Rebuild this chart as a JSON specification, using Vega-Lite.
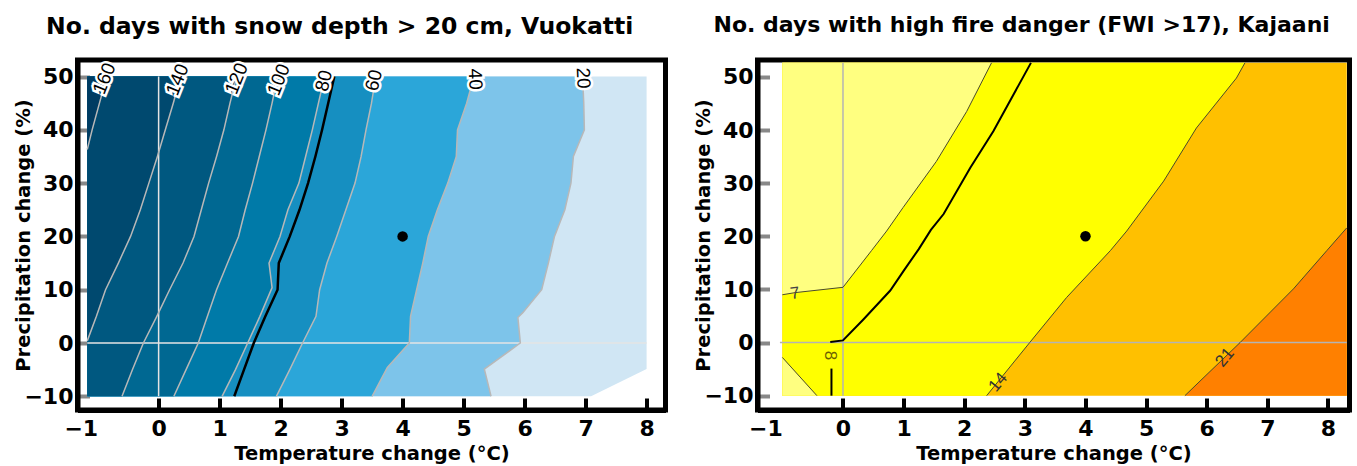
{
  "$schema": "https://vega.github.io/schema/vega-lite/v6.json",
  "padding": {"left": 10.5, "top": 11, "right": 0, "bottom": 0},
  "spacing": 22,
  "datasets": {
    "snow": [
      {"c": "bg", "y": 50, "x": 8.0}, {"c": "bg", "y": -4.9, "x": 8.0}, {"c": "bg", "y": -10, "x": 7.09},
      {"c": "20", "y": 50, "x": 6.95}, {"c": "20", "y": 45, "x": 6.97}, {"c": "20", "y": 40, "x": 6.98}, {"c": "20", "y": 35, "x": 6.8}, {"c": "20", "y": 30, "x": 6.76}, {"c": "20", "y": 25, "x": 6.66}, {"c": "20", "y": 20, "x": 6.49}, {"c": "20", "y": 15, "x": 6.39}, {"c": "20", "y": 10, "x": 6.28}, {"c": "20", "y": 5.7, "x": 5.97}, {"c": "20", "y": 4.8, "x": 5.89}, {"c": "20", "y": 0, "x": 5.93}, {"c": "20", "y": -4.9, "x": 5.34}, {"c": "20", "y": -10, "x": 5.45},
      {"c": "40", "y": 50, "x": 5.17}, {"c": "40", "y": 45, "x": 5.05}, {"c": "40", "y": 40, "x": 4.9}, {"c": "40", "y": 35, "x": 4.88}, {"c": "40", "y": 30, "x": 4.74}, {"c": "40", "y": 25, "x": 4.57}, {"c": "40", "y": 20, "x": 4.42}, {"c": "40", "y": 15, "x": 4.33}, {"c": "40", "y": 10, "x": 4.23}, {"c": "40", "y": 5, "x": 4.13}, {"c": "40", "y": 0, "x": 4.11}, {"c": "40", "y": -4.6, "x": 3.75}, {"c": "40", "y": -10, "x": 3.5},
      {"c": "60", "y": 50, "x": 3.56}, {"c": "60", "y": 45, "x": 3.49}, {"c": "60", "y": 40, "x": 3.4}, {"c": "60", "y": 35, "x": 3.32}, {"c": "60", "y": 30, "x": 3.22}, {"c": "60", "y": 25, "x": 3.07}, {"c": "60", "y": 20, "x": 2.92}, {"c": "60", "y": 15, "x": 2.76}, {"c": "60", "y": 10, "x": 2.64}, {"c": "60", "y": 5, "x": 2.58}, {"c": "60", "y": 0, "x": 2.36}, {"c": "60", "y": -5, "x": 2.15}, {"c": "60", "y": -10, "x": 1.93},
      {"c": "80", "y": 50, "x": 2.72}, {"c": "80", "y": 45, "x": 2.62}, {"c": "80", "y": 40, "x": 2.52}, {"c": "80", "y": 35, "x": 2.41}, {"c": "80", "y": 30, "x": 2.3}, {"c": "80", "y": 25, "x": 2.12}, {"c": "80", "y": 20, "x": 1.99}, {"c": "80", "y": 15, "x": 1.81}, {"c": "80", "y": 10.4, "x": 1.86}, {"c": "80", "y": 5, "x": 1.66}, {"c": "80", "y": 0, "x": 1.46}, {"c": "80", "y": -5, "x": 1.26}, {"c": "80", "y": -10, "x": 1.04},
      {"c": "100", "y": 50, "x": 1.95}, {"c": "100", "y": 45, "x": 1.86}, {"c": "100", "y": 40, "x": 1.76}, {"c": "100", "y": 35, "x": 1.65}, {"c": "100", "y": 30, "x": 1.54}, {"c": "100", "y": 25, "x": 1.42}, {"c": "100", "y": 20, "x": 1.31}, {"c": "100", "y": 15, "x": 1.13}, {"c": "100", "y": 10, "x": 0.95}, {"c": "100", "y": 5, "x": 0.8}, {"c": "100", "y": 0, "x": 0.65}, {"c": "100", "y": -5, "x": 0.45}, {"c": "100", "y": -10, "x": 0.25},
      {"c": "120", "y": 50, "x": 1.28}, {"c": "120", "y": 45, "x": 1.17}, {"c": "120", "y": 40, "x": 1.07}, {"c": "120", "y": 35, "x": 0.95}, {"c": "120", "y": 30, "x": 0.82}, {"c": "120", "y": 25, "x": 0.7}, {"c": "120", "y": 20, "x": 0.58}, {"c": "120", "y": 15, "x": 0.4}, {"c": "120", "y": 10, "x": 0.18}, {"c": "120", "y": 5, "x": -0.03}, {"c": "120", "y": 0, "x": -0.25}, {"c": "120", "y": -5, "x": -0.43}, {"c": "120", "y": -10, "x": -0.6},
      {"c": "140", "y": 50, "x": 0.36}, {"c": "140", "y": 45, "x": 0.24}, {"c": "140", "y": 40, "x": 0.11}, {"c": "140", "y": 35, "x": -0.02}, {"c": "140", "y": 30, "x": -0.16}, {"c": "140", "y": 25, "x": -0.3}, {"c": "140", "y": 20, "x": -0.46}, {"c": "140", "y": 15, "x": -0.66}, {"c": "140", "y": 10, "x": -0.87}, {"c": "140", "y": 5, "x": -1.02}, {"c": "140", "y": 0.4, "x": -1.17},
      {"c": "160", "y": 50, "x": -0.85}, {"c": "160", "y": 45, "x": -0.97}, {"c": "160", "y": 40, "x": -1.09}, {"c": "160", "y": 36.3, "x": -1.17},
      {"c": "k80", "y": 50, "x": 2.88}, {"c": "k80", "y": 45, "x": 2.78}, {"c": "k80", "y": 40, "x": 2.68}, {"c": "k80", "y": 35, "x": 2.57}, {"c": "k80", "y": 30, "x": 2.45}, {"c": "k80", "y": 25, "x": 2.31}, {"c": "k80", "y": 20, "x": 2.15}, {"c": "k80", "y": 15, "x": 1.97}, {"c": "k80", "y": 10, "x": 1.95}, {"c": "k80", "y": 5, "x": 1.75}, {"c": "k80", "y": 0, "x": 1.56}, {"c": "k80", "y": -5, "x": 1.4}, {"c": "k80", "y": -10, "x": 1.24}
    ],
    "snowRef": [
      {"x": 0, "x2": 0, "y": -10, "y2": 50},
      {"x": -1.17, "x2": 8, "y": 0, "y2": 0}
    ],
    "snowLab": [
      {"lab": "160", "x": -0.89, "y": 49.6},
      {"lab": "140", "x": 0.31, "y": 49.4},
      {"lab": "120", "x": 1.28, "y": 49.6},
      {"lab": "100", "x": 1.97, "y": 49.4},
      {"lab": "80", "x": 2.71, "y": 49.2},
      {"lab": "60", "x": 3.53, "y": 49.3},
      {"lab": "40", "x": 5.19, "y": 49.5},
      {"lab": "20", "x": 6.96, "y": 49.7}
    ],
    "fire": [
      {"c": "bg", "y": -10, "x": 8.31}, {"c": "bg", "y": 52.66, "x": 8.31},
      {"c": "21", "y": -10, "x": 5.64}, {"c": "21", "y": 0, "x": 6.55}, {"c": "21", "y": 10.1, "x": 7.43}, {"c": "21", "y": 17.3, "x": 7.98}, {"c": "21", "y": 21.6, "x": 8.31},
      {"c": "14", "y": -10, "x": 2.37}, {"c": "14", "y": 0, "x": 3.08}, {"c": "14", "y": 8.5, "x": 3.69}, {"c": "14", "y": 17.3, "x": 4.41}, {"c": "14", "y": 21, "x": 4.68}, {"c": "14", "y": 30.4, "x": 5.29}, {"c": "14", "y": 40.4, "x": 5.83}, {"c": "14", "y": 49.8, "x": 6.49}, {"c": "14", "y": 52.66, "x": 6.63},
      {"c": "7a", "y": 9.0, "x": -1.0}, {"c": "7a", "y": 9.4, "x": -0.79}, {"c": "7a", "y": 10.4, "x": 0.0}, {"c": "7a", "y": 17.3, "x": 0.47}, {"c": "7a", "y": 21, "x": 0.72}, {"c": "7a", "y": 25.4, "x": 0.99}, {"c": "7a", "y": 34.1, "x": 1.54}, {"c": "7a", "y": 43.5, "x": 2.04}, {"c": "7a", "y": 52.66, "x": 2.45},
      {"c": "7b", "y": -10, "x": -0.43}, {"c": "7b", "y": -2.8, "x": -1.0},
      {"c": "k8", "y": 0.1, "x": -0.21}, {"c": "k8", "y": 0.4, "x": 0.0}, {"c": "k8", "y": 4.4, "x": 0.34}, {"c": "k8", "y": 9.8, "x": 0.78}, {"c": "k8", "y": 13.5, "x": 1.0}, {"c": "k8", "y": 17.6, "x": 1.25}, {"c": "k8", "y": 21.2, "x": 1.45}, {"c": "k8", "y": 24.2, "x": 1.66}, {"c": "k8", "y": 32.9, "x": 2.1}, {"c": "k8", "y": 39.8, "x": 2.48}, {"c": "k8", "y": 52.66, "x": 3.1},
      {"c": "k8b", "y": -10, "x": -0.19}, {"c": "k8b", "y": -4.9, "x": -0.19}
    ],
    "fireRef": [
      {"x": 0, "x2": 0, "y": -10, "y2": 52.66},
      {"x": -1.04, "x2": 8.31, "y": 0, "y2": 0}
    ],
    "fireLab": [
      {"lab": "7", "x": -0.79, "y": 9.2},
      {"lab": "8", "x": -0.21, "y": -2.45},
      {"lab": "14", "x": 2.56, "y": -7.5},
      {"lab": "21", "x": 6.3, "y": -2.8}
    ],
    "dot": [{"x": 4, "y": 20}]
  },
  "hconcat": [
    {
      "width": 588,
      "height": 350,
      "title": {"text": "No. days with snow depth > 20 cm, Vuokatti", "fontSize": 23.5},
      "encoding": {
        "x": {"field": "x", "type": "quantitative", "stack": null, "scale": {"domain": [-1.33, 8.31], "nice": false, "zero": false}, "axis": {"values": [-1, 0, 1, 2, 3, 4, 5, 6, 7, 8], "title": "Temperature change (°C)", "labelPadding": 20, "titlePadding": 5, "labelFlush": false, "labelAlign": {"condition": {"test": "datum.value == -1", "value": "right"}, "value": "center"}, "tickColor": {"condition": {"test": "datum.value == -1", "value": "transparent"}, "value": "black"}}},
        "y": {"field": "y", "type": "quantitative", "scale": {"domain": [-12.57, 53.1], "nice": false, "zero": false}, "axis": {"values": [-10, 0, 10, 20, 30, 40, 50], "title": "Precipitation change (%)", "labelPadding": 16.5, "titlePadding": -10}}
      },
      "layer": [
        {"data": {"name": "snow"}, "transform": [{"filter": "datum.c == 'bg'"}], "mark": {"type": "area", "orient": "horizontal", "color": "#d0e6f4"}, "encoding": {"x2": {"datum": -1.17}}},
        {"data": {"name": "snow"}, "transform": [{"filter": "datum.c == '20'"}], "mark": {"type": "area", "orient": "horizontal", "color": "#7dc4ea"}, "encoding": {"x2": {"datum": -1.17}}},
        {"data": {"name": "snow"}, "transform": [{"filter": "datum.c == '40'"}], "mark": {"type": "area", "orient": "horizontal", "color": "#2ba6d9"}, "encoding": {"x2": {"datum": -1.17}}},
        {"data": {"name": "snow"}, "transform": [{"filter": "datum.c == '60'"}], "mark": {"type": "area", "orient": "horizontal", "color": "#168fc1"}, "encoding": {"x2": {"datum": -1.17}}},
        {"data": {"name": "snow"}, "transform": [{"filter": "datum.c == '80'"}], "mark": {"type": "area", "orient": "horizontal", "color": "#007aa8"}, "encoding": {"x2": {"datum": -1.17}}},
        {"data": {"name": "snow"}, "transform": [{"filter": "datum.c == '100'"}], "mark": {"type": "area", "orient": "horizontal", "color": "#006892"}, "encoding": {"x2": {"datum": -1.17}}},
        {"data": {"name": "snow"}, "transform": [{"filter": "datum.c == '120'"}], "mark": {"type": "area", "orient": "horizontal", "color": "#005880"}, "encoding": {"x2": {"datum": -1.17}}},
        {"data": {"name": "snow"}, "transform": [{"filter": "datum.c == '140'"}], "mark": {"type": "area", "orient": "horizontal", "color": "#00496f"}, "encoding": {"x2": {"datum": -1.17}}},
        {"data": {"name": "snow"}, "transform": [{"filter": "datum.c == '160'"}], "mark": {"type": "area", "orient": "horizontal", "color": "#003c62"}, "encoding": {"x2": {"datum": -1.17}}},
        {"data": {"name": "snowRef"}, "mark": {"type": "rule", "color": "#e4e4e4", "strokeWidth": 1.5}, "encoding": {"x2": {"field": "x2"}, "y2": {"field": "y2"}}},
        {"data": {"name": "snow"}, "transform": [{"filter": "datum.c != 'bg' && datum.c != 'k80'"}], "mark": {"type": "line", "color": "#b8b8b8", "strokeWidth": 1.5}, "encoding": {"detail": {"field": "c"}, "order": {"field": "y"}}},
        {"data": {"name": "snow"}, "transform": [{"filter": "datum.c == 'k80'"}], "mark": {"type": "line", "color": "black", "strokeWidth": 2.5}, "encoding": {"order": {"field": "y"}}},
        {"data": {"name": "snowLab"}, "transform": [{"filter": "datum.lab == '160' || datum.lab == '140' || datum.lab == '120' || datum.lab == '100'"}], "mark": {"type": "text", "angle": -68, "font": "Liberation Sans", "fontSize": 19, "stroke": "white", "strokeWidth": 5, "fill": "white"}, "encoding": {"text": {"field": "lab"}}},
        {"data": {"name": "snowLab"}, "transform": [{"filter": "datum.lab == '160' || datum.lab == '140' || datum.lab == '120' || datum.lab == '100'"}], "mark": {"type": "text", "angle": -68, "font": "Liberation Sans", "fontSize": 19, "fill": "black"}, "encoding": {"text": {"field": "lab"}}},
        {"data": {"name": "snowLab"}, "transform": [{"filter": "datum.lab == '80' || datum.lab == '60'"}], "mark": {"type": "text", "angle": -76, "font": "Liberation Sans", "fontSize": 19, "stroke": "white", "strokeWidth": 5, "fill": "white"}, "encoding": {"text": {"field": "lab"}}},
        {"data": {"name": "snowLab"}, "transform": [{"filter": "datum.lab == '80' || datum.lab == '60'"}], "mark": {"type": "text", "angle": -76, "font": "Liberation Sans", "fontSize": 19, "fill": "black"}, "encoding": {"text": {"field": "lab"}}},
        {"data": {"name": "snowLab"}, "transform": [{"filter": "datum.lab == '40' || datum.lab == '20'"}], "mark": {"type": "text", "angle": 88, "font": "Liberation Sans", "fontSize": 19, "stroke": "white", "strokeWidth": 5, "fill": "white"}, "encoding": {"text": {"field": "lab"}}},
        {"data": {"name": "snowLab"}, "transform": [{"filter": "datum.lab == '40' || datum.lab == '20'"}], "mark": {"type": "text", "angle": 88, "font": "Liberation Sans", "fontSize": 19, "fill": "black"}, "encoding": {"text": {"field": "lab"}}},
        {"data": {"name": "dot"}, "mark": {"type": "point", "filled": true, "color": "black", "size": 110, "opacity": 1}}
      ]
    },
    {
      "width": 592,
      "height": 350,
      "title": {"text": "No. days with high fire danger (FWI >17), Kajaani", "fontSize": 22},
      "encoding": {
        "x": {"field": "x", "type": "quantitative", "stack": null, "scale": {"domain": [-1.41, 8.355], "nice": false, "zero": false}, "axis": {"values": [-1, 0, 1, 2, 3, 4, 5, 6, 7, 8], "title": "Temperature change (°C)", "labelPadding": 20, "titlePadding": 5, "labelFlush": false, "labelAlign": {"condition": {"test": "datum.value == -1", "value": "right"}, "value": "center"}, "tickColor": {"condition": {"test": "datum.value == -1", "value": "transparent"}, "value": "black"}}},
        "y": {"field": "y", "type": "quantitative", "scale": {"domain": [-12.7, 53.2], "nice": false, "zero": false}, "axis": {"values": [-10, 0, 10, 20, 30, 40, 50], "title": "Precipitation change (%)", "labelPadding": 16.5, "titlePadding": -10}}
      },
      "layer": [
        {"data": {"name": "fire"}, "transform": [{"filter": "datum.c == 'bg'"}], "mark": {"type": "area", "orient": "horizontal", "color": "#ffc000"}, "encoding": {"x2": {"datum": -1.0}}},
        {"data": {"name": "fire"}, "transform": [{"filter": "datum.c == '21'"}], "mark": {"type": "area", "orient": "horizontal", "color": "#ff8000"}, "encoding": {"x2": {"datum": 8.31}}},
        {"data": {"name": "fire"}, "transform": [{"filter": "datum.c == '14'"}], "mark": {"type": "area", "orient": "horizontal", "color": "#ffff00"}, "encoding": {"x2": {"datum": -1.0}}},
        {"data": {"name": "fire"}, "transform": [{"filter": "datum.c == '7a'"}], "mark": {"type": "area", "orient": "horizontal", "color": "#ffff80"}, "encoding": {"x2": {"datum": -1.0}}},
        {"data": {"name": "fire"}, "transform": [{"filter": "datum.c == '7b'"}], "mark": {"type": "area", "orient": "horizontal", "color": "#ffff80"}, "encoding": {"x2": {"datum": -1.0}}},
        {"data": {"name": "fireRef"}, "mark": {"type": "rule", "color": "#b4b4b4", "strokeWidth": 1.5}, "encoding": {"x2": {"field": "x2"}, "y2": {"field": "y2"}}},
        {"data": {"name": "fire"}, "transform": [{"filter": "datum.c == '7a' || datum.c == '7b' || datum.c == '14' || datum.c == '21'"}], "mark": {"type": "line", "color": "#4a4a2a", "strokeWidth": 1}, "encoding": {"detail": {"field": "c"}, "order": {"field": "y"}}},
        {"data": {"name": "fire"}, "transform": [{"filter": "datum.c == 'k8' || datum.c == 'k8b'"}], "mark": {"type": "line", "color": "black", "strokeWidth": 2}, "encoding": {"detail": {"field": "c"}, "order": {"field": "y"}}},
        {"data": {"name": "fireLab"}, "transform": [{"filter": "datum.lab == '7'"}], "mark": {"type": "text", "angle": -8, "font": "Liberation Sans", "fontSize": 17, "fill": "#444"}, "encoding": {"text": {"field": "lab"}}},
        {"data": {"name": "fireLab"}, "transform": [{"filter": "datum.lab == '8'"}], "mark": {"type": "text", "angle": 90, "font": "Liberation Sans", "fontSize": 17, "fill": "#6b5e00"}, "encoding": {"text": {"field": "lab"}}},
        {"data": {"name": "fireLab"}, "transform": [{"filter": "datum.lab == '14' || datum.lab == '21'"}], "mark": {"type": "text", "angle": -50, "font": "Liberation Sans", "fontSize": 17, "fill": "#333"}, "encoding": {"text": {"field": "lab"}}},
        {"data": {"name": "dot"}, "mark": {"type": "point", "filled": true, "color": "black", "size": 110, "opacity": 1}}
      ]
    }
  ],
  "config": {
    "background": "white",
    "view": {"stroke": "black", "strokeWidth": 5},
    "axis": {
      "grid": false,
      "domainColor": "black",
      "domainWidth": 5,
      "tickWidth": 4,
      "tickSize": -12,
      "labelFont": "DejaVu Sans",
      "labelFontWeight": "bold",
      "labelFontSize": 22,
      "labelColor": "black",
      "titleFont": "DejaVu Sans",
      "titleFontWeight": "bold",
      "titleFontSize": 19.5,
      "titleColor": "black"
    },
    "title": {"font": "DejaVu Sans", "fontWeight": "bold", "color": "black", "anchor": "middle", "frame": "bounds", "offset": 22}
  }
}
